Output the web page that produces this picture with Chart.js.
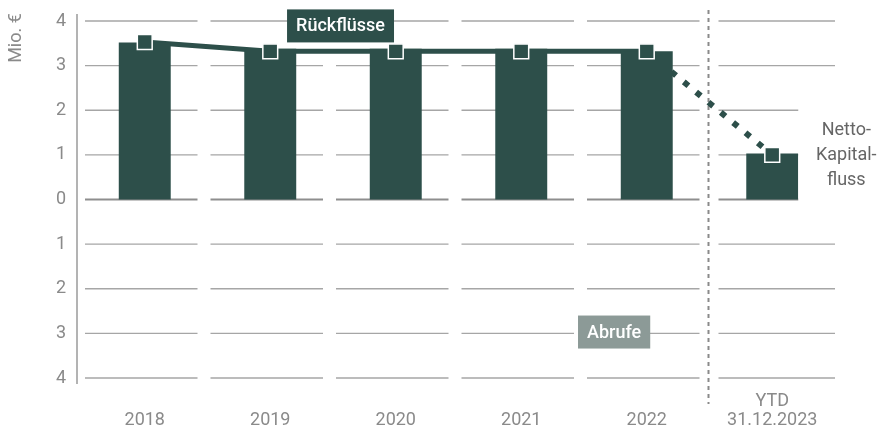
<!DOCTYPE html>
<html><head><meta charset="utf-8">
<script src="https://cdn.jsdelivr.net/npm/chart.js@4.4.0/dist/chart.umd.min.js"></script>
<style>html,body{margin:0;padding:0;background:#fff}#wrap{width:882px;height:432px}</style>
</head><body><div id="wrap"><canvas id="c" width="882" height="432"></canvas></div>
<script>
const categories = ['2018', '2019', '2020', '2021', '2022', ['YTD', '31.12.2023']];
const barValues = [3.52, 3.38, 3.38, 3.38, 3.32, 1.03];
const lineValues = [3.53, 3.32, 3.32, 3.32, 3.32, 1.0];
const yTicks = [-4, -3, -2, -1, 0, 1, 2, 3, 4];
const yTitle = 'Mio. €';
const labelReturns = 'Rückflüsse';
const labelCalls = 'Abrufe';
const labelNet = ['Netto-', 'Kapital-', 'fluss'];

const DARK = '#2d4f4a';
const GREYBOX = '#8c9a97';
const FONT = 'Roboto, "Noto Sans", sans-serif';

const decor = {
  id: 'decor',
  beforeDatasetsDraw(chart) {
    const { ctx, chartArea: a, scales: { x, y } } = chart;
    const n = categories.length;
    const w = (a.right - a.left) / n;
    ctx.save();
    yTicks.forEach(t => {
      const py = y.getPixelForValue(t);
      ctx.strokeStyle = t === 0 ? '#8e8e8e' : '#a6a6a6';
      ctx.lineWidth = t === 0 ? 2.2 : 1.4;
      for (let i = 0; i < n; i++) {
        const cx = x.getPixelForValue(i);
        let l = cx - w / 2 + 3, r = cx + w / 2 - 10;
        if (i === n - 1) { l = cx - w / 2 + 9; r = cx + w / 2; }
        ctx.beginPath(); ctx.moveTo(l, py); ctx.lineTo(r, py); ctx.stroke();
      }
    });
    // y axis line
    ctx.strokeStyle = '#9a9a9a';
    ctx.lineWidth = 1.5;
    ctx.beginPath();
    ctx.moveTo(a.left - 5, y.getPixelForValue(4) - 7);
    ctx.lineTo(a.left - 5, y.getPixelForValue(-4) + 6);
    ctx.stroke();
    // vertical separator
    const sx = (x.getPixelForValue(n - 2) + x.getPixelForValue(n - 1)) / 2 - 1;
    ctx.strokeStyle = '#8a8a8a';
    ctx.lineWidth = 2;
    ctx.setLineDash([4, 4]);
    ctx.beginPath();
    ctx.moveTo(sx, 10);
    ctx.lineTo(sx, y.getPixelForValue(-4) + 26);
    ctx.stroke();
    ctx.setLineDash([]);
    ctx.restore();
  },
  afterDatasetsDraw(chart) {
    const { ctx, chartArea: a, scales: { x, y } } = chart;
    ctx.save();
    // white area behind net label
    const nx = x.getPixelForValue(5) + 26;
    ctx.fillStyle = '#fff';
    ctx.fillRect(nx, y.getPixelForValue(2.25), 60, y.getPixelForValue(-0.15) - y.getPixelForValue(2.25));
    // net label
    ctx.fillStyle = '#666';
    ctx.font = '18px ' + FONT;
    ctx.textAlign = 'center';
    ctx.textBaseline = 'middle';
    const ncx = x.getPixelForValue(5.59);
    const ncy = y.getPixelForValue(1.0) + 1;
    labelNet.forEach((t, i) => ctx.fillText(t, ncx, ncy + (i - 1) * 25));
    // boxed labels
    const box = (text, cxv, cyv, color) => {
      ctx.font = '500 18px ' + FONT;
      const cx = x.getPixelForValue(cxv), cy = y.getPixelForValue(cyv);
      const tw = ctx.measureText(text).width;
      const bw = tw + 18, bh = 33;
      ctx.fillStyle = color;
      ctx.fillRect(cx - bw / 2, cy - bh / 2, bw, bh);
      ctx.fillStyle = '#fff';
      ctx.fillText(text, cx, cy + 1);
    };
    box(labelReturns, 1.56, 3.89, DARK);
    box(labelCalls, 3.74, -2.97, GREYBOX);
    // y title
    ctx.translate(16, 38);
    ctx.rotate(-Math.PI / 2);
    ctx.font = '18px ' + FONT;
    ctx.fillStyle = '#8a8a8a';
    ctx.fillText(yTitle, 0, 0);
    ctx.restore();
  }
};

new Chart(document.getElementById('c'), {
  data: {
    labels: categories,
    datasets: [
      {
        type: 'bar', data: barValues, backgroundColor: DARK,
        categoryPercentage: 1, barPercentage: 0.414, order: 1
      },
      {
        type: 'line', data: lineValues, borderColor: DARK, borderWidth: 5,
        pointRadius: 0, order: 2, tension: 0,
        segment: {
          borderDash: c => c.p1DataIndex === 5 ? [6, 10] : undefined,
          borderWidth: c => c.p1DataIndex === 5 ? 6 : 5
        }
      },
      {
        type: 'line', data: lineValues, showLine: false, order: 0,
        pointStyle: 'rect', pointRadius: 10.5, pointBackgroundColor: DARK,
        pointBorderColor: '#fff', pointBorderWidth: 1.5
      }
    ]
  },
  options: {
    responsive: false,
    animation: false,
    devicePixelRatio: 1,
    layout: { padding: { top: 21, right: 47, left: 0, bottom: 0 } },
    plugins: { legend: { display: false }, tooltip: { enabled: false } },
    scales: {
      x: {
        offset: true,
        grid: { display: false, drawTicks: false },
        border: { display: false },
        afterFit: s => { s.height = 54; s.paddingLeft = 0; s.paddingRight = 0; },
        ticks: {
          autoSkip: false, maxRotation: 0, minRotation: 0,
          padding: 23, crossAlign: 'far',
          color: '#8a8a8a', font: { family: FONT, size: 18, lineHeight: 1.1 }
        }
      },
      y: {
        min: -4, max: 4,
        grid: { display: false, drawTicks: false },
        border: { display: false },
        afterFit: s => { s.width = 82; s.paddingTop = 0; s.paddingBottom = 0; },
        afterBuildTicks: s => { s.ticks = yTicks.map(v => ({ value: v })); },
        ticks: {
          padding: 16,
          color: '#8a8a8a', font: { family: FONT, size: 18 },
          callback: v => String(Math.abs(v))
        }
      }
    }
  },
  plugins: [decor]
});
</script>
</body></html>
